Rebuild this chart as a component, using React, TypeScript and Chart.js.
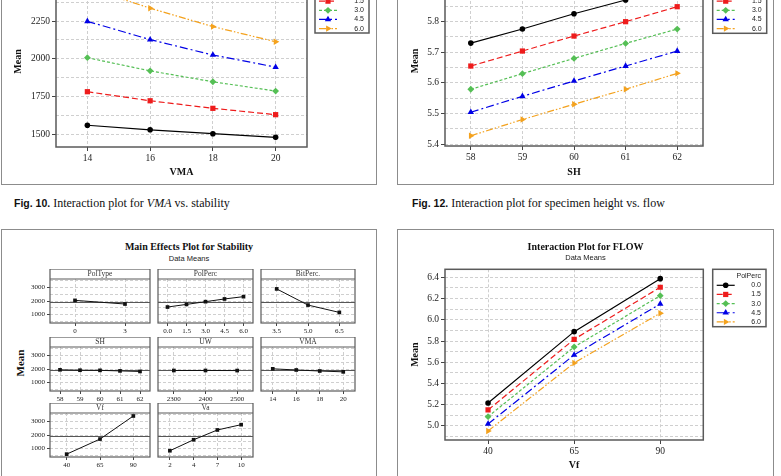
import React, { useEffect, useRef } from 'react';
import { Chart, registerables } from 'chart.js';
Chart.register(...registerables);

const SERIF = "'Liberation Serif', 'Times New Roman', serif";
const SANS = "'Liberation Sans', Arial, sans-serif";

// ---------------- DATA ----------------
const polPercLevels = ['0.0', '1.5', '3.0', '4.5', '6.0'];

// Fig. 10 – Interaction plot for VMA vs. stability
const vmaLevels = [14, 16, 18, 20];
const stabVma00 = [1560, 1530, 1504, 1480];
const stabVma15 = [1782, 1722, 1672, 1630];
const stabVma30 = [2007, 1920, 1848, 1786];
const stabVma45 = [2248, 2127, 2025, 1945];
const stabVma60 = [2470, 2335, 2213, 2113];

// Fig. 12 – Interaction plot for specimen height vs. flow
const shLevels = [58, 59, 60, 61, 62];
const flowSh00 = [5.73, 5.776, 5.826, 5.871, 5.92];
const flowSh15 = [5.655, 5.704, 5.753, 5.8, 5.849];
const flowSh30 = [5.579, 5.63, 5.68, 5.729, 5.776];
const flowSh45 = [5.504, 5.556, 5.606, 5.655, 5.704];
const flowSh60 = [5.427, 5.48, 5.53, 5.579, 5.631];

// Interaction plot for FLOW (Vf)
const vfLevels = [40, 65, 90];
const flowVf00 = [5.217, 5.888, 6.387];
const flowVf15 = [5.151, 5.816, 6.306];
const flowVf30 = [5.088, 5.744, 6.227];
const flowVf45 = [5.019, 5.669, 6.149];
const flowVf60 = [4.953, 5.593, 6.061];

// Main effects plot for stability
const mePolTypeLevels = ['0', '3'];
const mePolType = [2045, 1778];
const mePolPercLevels = ['0.0', '1.5', '3.0', '4.5', '6.0'];
const mePolPerc = [1555, 1750, 1950, 2150, 2320];
const meBitPercLevels = ['3.5', '5.0', '6.5'];
const meBitPerc = [2890, 1700, 1160];
const meShLevels = ['58', '59', '60', '61', '62'];
const meSh = [1940, 1910, 1900, 1860, 1820];
const meUwLevels = ['2300', '2400', '2500'];
const meUw = [1890, 1890, 1885];
const meVmaLevels = ['14', '16', '18', '20'];
const meVma = [2013, 1927, 1852, 1791];
const meVfLevels = ['40', '65', '90'];
const meVf = [590, 1700, 3400];
const meVaLevels = ['2', '4', '7', '10'];
const meVa = [840, 1650, 2370, 2760];
const meGrandMean = 1890;
const meYTickValues = [500, 1000, 1500, 2000, 2500, 3000, 3500];

// ---------------- STYLES ----------------
type Area = { left: number; top: number; right: number; bottom: number };
type SStyle = { color: string; dash: number[]; point: string; rot: number; r: number };

const seriesStyles: SStyle[] = [
  { color: '#000000', dash: [], point: 'circle', rot: 0, r: 2.8 },
  { color: '#ee1c1c', dash: [6, 3], point: 'rect', rot: 0, r: 3.7 },
  { color: '#55bf55', dash: [3, 2], point: 'rectRot', rot: 0, r: 3.4 },
  { color: '#0000e6', dash: [8, 3, 2, 3], point: 'triangle', rot: 0, r: 3.7 },
  { color: '#f4a21e', dash: [7, 2, 1.5, 2, 1.5, 2], point: 'triangle', rot: 90, r: 3.7 },
];
const GRID = '#cfcfcf';
const GRID_DASH = [3, 2];
const FRAME = '#5a5a5a';

const isMultiple = (v: number, step: number) => Math.abs(v / step - Math.round(v / step)) < 1e-6;
function makeTicks(min: number, max: number, step: number) {
  const out: number[] = [];
  const s = Math.ceil(min / step - 1e-9);
  const e = Math.floor(max / step + 1e-9);
  for (let k = s; k <= e; k++) out.push(+(k * step).toFixed(6));
  return out;
}

function drawMarker(ctx: CanvasRenderingContext2D, st: SStyle, x: number, y: number) {
  const r = st.r;
  ctx.save();
  ctx.fillStyle = st.color;
  ctx.setLineDash([]);
  ctx.beginPath();
  if (st.point === 'circle') ctx.arc(x, y, r, 0, Math.PI * 2);
  else if (st.point === 'rect') {
    const s = r * Math.SQRT1_2;
    ctx.rect(x - s, y - s, 2 * s, 2 * s);
  } else if (st.point === 'rectRot') {
    ctx.moveTo(x - r, y);
    ctx.lineTo(x, y - r);
    ctx.lineTo(x + r, y);
    ctx.lineTo(x, y + r);
    ctx.closePath();
  } else {
    let rad = (st.rot * Math.PI) / 180;
    ctx.moveTo(x + Math.sin(rad) * r, y - Math.cos(rad) * r);
    rad += (2 * Math.PI) / 3;
    ctx.lineTo(x + Math.sin(rad) * r, y - Math.cos(rad) * r);
    rad += (2 * Math.PI) / 3;
    ctx.lineTo(x + Math.sin(rad) * r, y - Math.cos(rad) * r);
    ctx.closePath();
  }
  ctx.fill();
  ctx.restore();
}

const framePlugin = {
  id: 'frame',
  afterDatasetsDraw(chart: any) {
    const { left, top, width, height } = chart.chartArea;
    const ctx = chart.ctx;
    ctx.save();
    ctx.strokeStyle = FRAME;
    ctx.lineWidth = 1.5;
    ctx.setLineDash([]);
    ctx.strokeRect(left, top, width, height);
    ctx.restore();
  },
};

function legendPlugin(box: Area, title: string) {
  return {
    id: 'mtbLegend',
    afterDraw(chart: any) {
      const ctx = chart.ctx as CanvasRenderingContext2D;
      ctx.save();
      ctx.fillStyle = '#ffffff';
      ctx.fillRect(box.left, box.top, box.right - box.left, box.bottom - box.top);
      ctx.strokeStyle = FRAME;
      ctx.lineWidth = 1.5;
      ctx.strokeRect(box.left, box.top, box.right - box.left, box.bottom - box.top);
      ctx.font = `7px ${SANS}`;
      ctx.fillStyle = '#222';
      ctx.textBaseline = 'middle';
      ctx.textAlign = 'right';
      ctx.fillText(title, box.right - 5, box.top + 7);
      chart.data.datasets.forEach((ds: any, i: number) => {
        const st = seriesStyles[i];
        const yy = box.top + 16 + i * 9.15;
        ctx.strokeStyle = st.color;
        ctx.lineWidth = 1.2;
        ctx.setLineDash(st.dash);
        ctx.beginPath();
        ctx.moveTo(box.left + 4, yy);
        ctx.lineTo(box.left + 22, yy);
        ctx.stroke();
        ctx.setLineDash([]);
        drawMarker(ctx, st, box.left + 13, yy);
        ctx.fillStyle = '#222';
        ctx.fillText(ds.label, box.right - 5, yy);
      });
      ctx.restore();
    },
  };
}

function titlePlugin(title: string, subtitle: string, cx: number, ty: number, sy: number) {
  return {
    id: 'mtbTitle',
    afterDraw(chart: any) {
      const ctx = chart.ctx as CanvasRenderingContext2D;
      ctx.save();
      ctx.textAlign = 'center';
      ctx.textBaseline = 'middle';
      ctx.fillStyle = '#111';
      ctx.font = `bold 10px ${SERIF}`;
      ctx.fillText(title, cx, ty);
      ctx.font = `7.5px ${SANS}`;
      ctx.fillStyle = '#222';
      ctx.fillText(subtitle, cx, sy);
      ctx.restore();
    },
  };
}

type IOpts = {
  xLevels: number[];
  series: number[][];
  xMin: number;
  xMax: number;
  yMin: number;
  yMax: number;
  yMinor: number;
  yMajor: number;
  decimals: number;
  xTitle: string;
  xTitlePad: number;
  area: Area;
  cw: number;
  ch: number;
  legendBox: Area;
  legendTitle: string;
  title?: string;
  subtitle?: string;
};

function interactionConfig(o: IOpts): any {
  const plugins: any[] = [framePlugin, legendPlugin(o.legendBox, o.legendTitle)];
  if (o.title) plugins.push(titlePlugin(o.title, o.subtitle || '', o.cw / 2, 18.3, 29.3));
  return {
    type: 'line',
    data: {
      datasets: o.series.map((vals, i) => {
        const st = seriesStyles[i];
        return {
          label: polPercLevels[i],
          data: vals.map((v, j) => ({ x: o.xLevels[j], y: v })),
          borderColor: st.color,
          backgroundColor: st.color,
          borderWidth: 1.2,
          borderDash: st.dash,
          pointStyle: st.point,
          pointRotation: st.rot,
          pointRadius: st.r,
          pointBorderWidth: 0,
          pointBackgroundColor: st.color,
          tension: 0,
          fill: false,
        };
      }),
    },
    options: {
      responsive: false,
      animation: false,
      devicePixelRatio: 1,
      events: [],
      layout: { padding: { left: 0, right: o.cw - o.area.right, top: o.area.top, bottom: 0 } },
      plugins: { legend: { display: false }, tooltip: { enabled: false }, title: { display: false } },
      scales: {
        x: {
          type: 'linear',
          min: o.xMin,
          max: o.xMax,
          afterBuildTicks: (s: any) => {
            s.ticks = o.xLevels.map((v) => ({ value: v }));
          },
          afterFit: (s: any) => {
            s.height = o.ch - o.area.bottom;
          },
          ticks: {
            font: { family: SERIF, size: 9.5 },
            color: '#222',
            padding: 2,
            maxRotation: 0,
            autoSkip: false,
            callback: (v: number) => String(v),
          },
          grid: { color: GRID, lineWidth: 1, tickLength: 4, tickColor: '#444', tickWidth: 1 },
          border: { display: false, dash: GRID_DASH },
          title: {
            display: true,
            text: o.xTitle,
            color: '#111',
            font: { family: SERIF, size: 10, weight: 'bold' },
            padding: { top: 0, bottom: o.xTitlePad },
          },
        },
        y: {
          type: 'linear',
          min: o.yMin,
          max: o.yMax,
          afterBuildTicks: (s: any) => {
            s.ticks = makeTicks(o.yMin, o.yMax, o.yMinor).map((v) => ({ value: v }));
          },
          afterFit: (s: any) => {
            s.width = o.area.left;
          },
          ticks: {
            font: { family: SERIF, size: 9.5 },
            color: '#222',
            padding: 2,
            autoSkip: false,
            callback: (v: number) => (isMultiple(v, o.yMajor) ? v.toFixed(o.decimals) : ''),
          },
          grid: {
            color: GRID,
            lineWidth: 1,
            tickLength: 4,
            tickWidth: 1,
            tickColor: (c: any) => (c.tick && isMultiple(c.tick.value, o.yMajor) ? '#444' : 'rgba(0,0,0,0)'),
          },
          border: { display: false, dash: GRID_DASH },
          title: {
            display: true,
            text: 'Mean',
            color: '#111',
            font: { family: SERIF, size: 10, weight: 'bold' },
            padding: { top: 12, bottom: 0 },
          },
        },
      },
    },
    plugins,
  };
}

// ---------- main effects panels ----------
const ME_HEADER = 10;
const ME_PLOT_H = 44;
const ME_YMIN = 380;
const ME_YMAX = 3620;

function panelPlugin(header: string) {
  return {
    id: 'panel',
    beforeDatasetsDraw(chart: any) {
      const { left, width } = chart.chartArea;
      const ctx = chart.ctx as CanvasRenderingContext2D;
      const yScale = chart.scales.y;
      const my = yScale.getPixelForValue(meGrandMean);
      ctx.save();
      ctx.setLineDash([]);
      ctx.strokeStyle = '#555';
      ctx.lineWidth = 1;
      ctx.beginPath();
      ctx.moveTo(left, my);
      ctx.lineTo(left + width, my);
      ctx.stroke();
      ctx.restore();
    },
    afterDatasetsDraw(chart: any) {
      const { left, top, width, height } = chart.chartArea;
      const ctx = chart.ctx as CanvasRenderingContext2D;
      ctx.save();
      ctx.setLineDash([]);
      ctx.fillStyle = '#ffffff';
      ctx.fillRect(left, top - ME_HEADER, width, ME_HEADER);
      ctx.strokeStyle = FRAME;
      ctx.lineWidth = 1.2;
      ctx.strokeRect(left, top - ME_HEADER, width, height + ME_HEADER);
      ctx.beginPath();
      ctx.moveTo(left, top);
      ctx.lineTo(left + width, top);
      ctx.stroke();
      ctx.fillStyle = '#333';
      ctx.font = `7.5px ${SERIF}`;
      ctx.textAlign = 'center';
      ctx.textBaseline = 'middle';
      ctx.fillText(header, left + width / 2, top - ME_HEADER / 2 + 0.5);
      ctx.restore();
    },
  };
}

function mainEffectConfig(levels: string[], values: number[], header: string, axisW: number, ch: number): any {
  const showY = axisW > 0;
  return {
    type: 'line',
    data: {
      labels: levels,
      datasets: [
        {
          data: values,
          borderColor: '#111',
          borderWidth: 1,
          pointStyle: 'rect',
          pointRadius: 2.6,
          pointBackgroundColor: '#111',
          pointBorderWidth: 0,
          tension: 0,
          fill: false,
        },
      ],
    },
    options: {
      responsive: false,
      animation: false,
      devicePixelRatio: 1,
      events: [],
      layout: { padding: { left: 0, right: 0, top: ME_HEADER, bottom: 0 } },
      plugins: { legend: { display: false }, tooltip: { enabled: false } },
      scales: {
        x: {
          type: 'category',
          offset: true,
          afterFit: (s: any) => {
            s.height = ch - ME_HEADER - ME_PLOT_H;
          },
          ticks: { font: { family: SERIF, size: 7 }, color: '#222', padding: 1, maxRotation: 0, autoSkip: false },
          grid: { offset: false, color: GRID, lineWidth: 1, tickLength: 3, tickColor: '#444' },
          border: { display: false, dash: GRID_DASH },
        },
        y: {
          type: 'linear',
          min: ME_YMIN,
          max: ME_YMAX,
          afterBuildTicks: (s: any) => {
            s.ticks = meYTickValues.map((v) => ({ value: v }));
          },
          afterFit: (s: any) => {
            s.width = axisW;
          },
          ticks: {
            display: showY,
            font: { family: SERIF, size: 7 },
            color: '#222',
            padding: 2,
            autoSkip: false,
            callback: (v: number) => (isMultiple(v, 1000) ? String(v) : ''),
          },
          grid: {
            color: GRID,
            lineWidth: 1,
            drawTicks: showY,
            tickLength: 3,
            tickColor: (c: any) => (c.tick && isMultiple(c.tick.value, 1000) ? '#444' : 'rgba(0,0,0,0)'),
          },
          border: { display: false, dash: GRID_DASH },
        },
      },
    },
    plugins: [panelPlugin(header)],
  };
}

function ChartCanvas({ x, y, w, h, config }: { x: number; y: number; w: number; h: number; config: () => any }) {
  const ref = useRef<HTMLCanvasElement>(null);
  useEffect(() => {
    const chart = new Chart(ref.current as HTMLCanvasElement, config());
    return () => chart.destroy();
  }, []);
  return (
    <canvas
      ref={ref}
      width={w}
      height={h}
      style={{ position: 'absolute', left: x, top: y, width: w, height: h, display: 'block' }}
    />
  );
}

const boxStyle = (left: number, top: number, width: number, height: number): React.CSSProperties => ({
  position: 'absolute',
  left,
  top,
  width,
  height,
  border: '1.5px solid #8c8c8c',
  boxSizing: 'border-box',
});

const captionStyle = (left: number): React.CSSProperties => ({
  position: 'absolute',
  left,
  top: 196,
  fontSize: 12,
  lineHeight: '14px',
  whiteSpace: 'nowrap',
  fontFamily: SERIF,
  color: '#111',
});

export default function App() {
  const ME_CH = ME_HEADER + ME_PLOT_H + 13;
  const colX = [10, 154, 257];
  const colW = [144, 103, 102];
  const colAxis = [40, 0, 0];
  const rowY = [269, 337, 403];
  const mePanels: { levels: string[]; values: number[]; header: string; r: number; c: number }[] = [
    { levels: mePolTypeLevels, values: mePolType, header: 'PolType', r: 0, c: 0 },
    { levels: mePolPercLevels, values: mePolPerc, header: 'PolPerc', r: 0, c: 1 },
    { levels: meBitPercLevels, values: meBitPerc, header: 'BitPerc.', r: 0, c: 2 },
    { levels: meShLevels, values: meSh, header: 'SH', r: 1, c: 0 },
    { levels: meUwLevels, values: meUw, header: 'UW', r: 1, c: 1 },
    { levels: meVmaLevels, values: meVma, header: 'VMA', r: 1, c: 2 },
    { levels: meVfLevels, values: meVf, header: 'Vf', r: 2, c: 0 },
    { levels: meVaLevels, values: meVa, header: 'Va', r: 2, c: 1 },
  ];

  return (
    <div
      style={{
        position: 'fixed',
        left: 0,
        top: 0,
        width: 781,
        height: 476,
        overflow: 'hidden',
        background: '#ffffff',
      }}
    >
      {/* outer frames */}
      <div style={boxStyle(1, -20, 376, 205)} />
      <div style={boxStyle(397, -20, 377, 205)} />
      <div style={boxStyle(1, 229, 376, 270)} />
      <div style={boxStyle(397, 229, 377, 270)} />

      {/* Fig. 10 */}
      <ChartCanvas
        x={0}
        y={-60}
        w={377}
        h={245}
        config={() =>
          interactionConfig({
            xLevels: vmaLevels,
            series: [stabVma00, stabVma15, stabVma30, stabVma45, stabVma60],
            xMin: 13,
            xMax: 21,
            yMin: 1416,
            yMax: 2548,
            yMinor: 125,
            yMajor: 250,
            decimals: 0,
            xTitle: 'VMA',
            xTitlePad: 7,
            area: { left: 56, top: 36, right: 307, bottom: 207 },
            cw: 377,
            ch: 245,
            legendBox: { left: 315, top: 36, right: 369, bottom: 93 },
            legendTitle: 'PolPerc',
          })
        }
      />

      {/* Fig. 12 */}
      <ChartCanvas
        x={397}
        y={-60}
        w={377}
        h={245}
        config={() =>
          interactionConfig({
            xLevels: shLevels,
            series: [flowSh00, flowSh15, flowSh30, flowSh45, flowSh60],
            xMin: 57.5,
            xMax: 62.5,
            yMin: 5.3935,
            yMax: 5.9494,
            yMinor: 0.05,
            yMajor: 0.1,
            decimals: 1,
            xTitle: 'SH',
            xTitlePad: 7,
            area: { left: 48, top: 36, right: 306, bottom: 206 },
            cw: 377,
            ch: 245,
            legendBox: { left: 315.7, top: 36, right: 369.7, bottom: 93.3 },
            legendTitle: 'PolPerc',
          })
        }
      />

      {/* captions */}
      <div style={captionStyle(14)}>
        <span style={{ fontFamily: SANS, fontWeight: 'bold', fontSize: 10.5 }}>Fig. 10.</span>
        {'  '}Interaction plot for <i>VMA</i> vs. stability
      </div>
      <div style={captionStyle(412)}>
        <span style={{ fontFamily: SANS, fontWeight: 'bold', fontSize: 10.5 }}>Fig. 12.</span>
        {'  '}Interaction plot for specimen height vs. flow
      </div>

      {/* Main effects title */}
      <div
        style={{
          position: 'absolute',
          left: 1,
          width: 376,
          top: 241,
          textAlign: 'center',
          fontFamily: SERIF,
          fontWeight: 'bold',
          fontSize: 10,
          lineHeight: '12px',
          color: '#111',
        }}
      >
        Main Effects Plot for Stability
      </div>
      <div
        style={{
          position: 'absolute',
          left: 1,
          width: 376,
          top: 253.5,
          textAlign: 'center',
          fontFamily: SANS,
          fontSize: 7.5,
          lineHeight: '10px',
          color: '#222',
        }}
      >
        Data Means
      </div>
      <div
        style={{
          position: 'absolute',
          left: 20,
          top: 363,
          transform: 'translate(-50%, -50%) rotate(-90deg)',
          fontFamily: SERIF,
          fontWeight: 'bold',
          fontSize: 11,
          lineHeight: '12px',
          color: '#111',
          whiteSpace: 'nowrap',
        }}
      >
        Mean
      </div>

      {mePanels.map((p) => (
        <ChartCanvas
          key={p.header}
          x={colX[p.c]}
          y={rowY[p.r]}
          w={colW[p.c]}
          h={ME_CH}
          config={() => mainEffectConfig(p.levels, p.values, p.header, colAxis[p.c], ME_CH)}
        />
      ))}

      {/* Interaction plot for FLOW */}
      <ChartCanvas
        x={397}
        y={229}
        w={377}
        h={247}
        config={() =>
          interactionConfig({
            xLevels: vfLevels,
            series: [flowVf00, flowVf15, flowVf30, flowVf45, flowVf60],
            xMin: 27.5,
            xMax: 102.5,
            yMin: 4.868,
            yMax: 6.475,
            yMinor: 0.1,
            yMajor: 0.2,
            decimals: 1,
            xTitle: 'Vf',
            xTitlePad: 5,
            area: { left: 48, top: 40.3, right: 306.3, bottom: 211 },
            cw: 377,
            ch: 247,
            legendBox: { left: 315.7, top: 40.3, right: 369, bottom: 97.7 },
            legendTitle: 'PolPerc',
            title: 'Interaction Plot for FLOW',
            subtitle: 'Data Means',
          })
        }
      />
    </div>
  );
}
